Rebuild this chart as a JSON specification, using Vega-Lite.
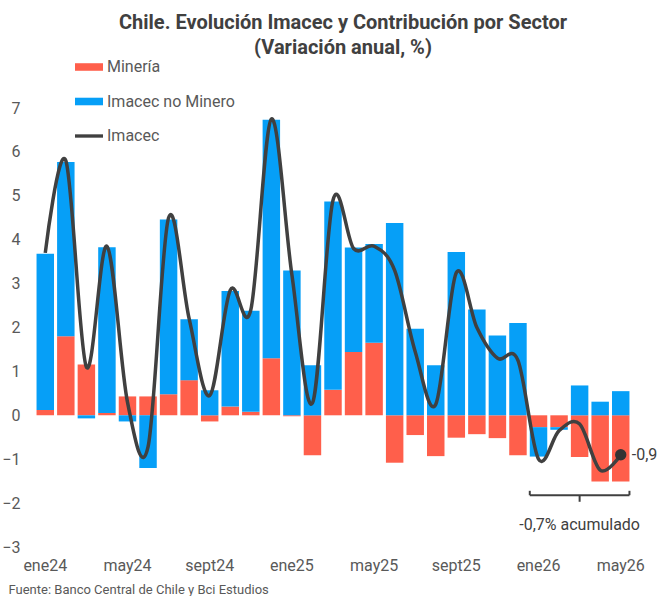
{
  "$schema": "https://vega.github.io/schema/vega-lite/v6.json",
  "width": 596,
  "height": 439,
  "autosize": {"type": "none"},
  "padding": {"left": 35, "top": 108, "right": 32, "bottom": 49},
  "background": "white",
  "config": {"font": "Roboto", "view": {"stroke": null}},
  "title": {
    "text": ["Chile. Evolución Imacec y Contribución por Sector", "(Variación anual, %)"],
    "fontSize": 20,
    "fontWeight": "bold",
    "color": "#404040",
    "anchor": "middle",
    "lineHeight": 25,
    "offset": -5,
    "dx": 10,
    "font": "Roboto"
  },
  "datasets": {
    "barras": [
      {"mes": "ene24", "serie": "Minería", "valor": 0.12}, {"mes": "ene24", "serie": "Imacec no Minero", "valor": 3.56},
      {"mes": "feb24", "serie": "Minería", "valor": 1.8}, {"mes": "feb24", "serie": "Imacec no Minero", "valor": 3.97},
      {"mes": "mar24", "serie": "Minería", "valor": 1.16}, {"mes": "mar24", "serie": "Imacec no Minero", "valor": -0.07},
      {"mes": "abr24", "serie": "Minería", "valor": 0.05}, {"mes": "abr24", "serie": "Imacec no Minero", "valor": 3.78},
      {"mes": "may24", "serie": "Minería", "valor": 0.43}, {"mes": "may24", "serie": "Imacec no Minero", "valor": -0.14},
      {"mes": "jun24", "serie": "Minería", "valor": 0.43}, {"mes": "jun24", "serie": "Imacec no Minero", "valor": -1.2},
      {"mes": "jul24", "serie": "Minería", "valor": 0.48}, {"mes": "jul24", "serie": "Imacec no Minero", "valor": 3.98},
      {"mes": "ago24", "serie": "Minería", "valor": 0.8}, {"mes": "ago24", "serie": "Imacec no Minero", "valor": 1.39},
      {"mes": "sept24", "serie": "Minería", "valor": -0.14}, {"mes": "sept24", "serie": "Imacec no Minero", "valor": 0.57},
      {"mes": "oct24", "serie": "Minería", "valor": 0.2}, {"mes": "oct24", "serie": "Imacec no Minero", "valor": 2.63},
      {"mes": "nov24", "serie": "Minería", "valor": 0.08}, {"mes": "nov24", "serie": "Imacec no Minero", "valor": 2.3},
      {"mes": "dic24", "serie": "Minería", "valor": 1.3}, {"mes": "dic24", "serie": "Imacec no Minero", "valor": 5.43},
      {"mes": "ene25", "serie": "Minería", "valor": -0.02}, {"mes": "ene25", "serie": "Imacec no Minero", "valor": 3.3},
      {"mes": "feb25", "serie": "Minería", "valor": -0.91}, {"mes": "feb25", "serie": "Imacec no Minero", "valor": 1.14},
      {"mes": "mar25", "serie": "Minería", "valor": 0.58}, {"mes": "mar25", "serie": "Imacec no Minero", "valor": 4.29},
      {"mes": "abr25", "serie": "Minería", "valor": 1.44}, {"mes": "abr25", "serie": "Imacec no Minero", "valor": 2.38},
      {"mes": "may25", "serie": "Minería", "valor": 1.65}, {"mes": "may25", "serie": "Imacec no Minero", "valor": 2.25},
      {"mes": "jun25", "serie": "Minería", "valor": -1.08}, {"mes": "jun25", "serie": "Imacec no Minero", "valor": 4.38},
      {"mes": "jul25", "serie": "Minería", "valor": -0.45}, {"mes": "jul25", "serie": "Imacec no Minero", "valor": 1.97},
      {"mes": "ago25", "serie": "Minería", "valor": -0.93}, {"mes": "ago25", "serie": "Imacec no Minero", "valor": 1.14},
      {"mes": "sept25", "serie": "Minería", "valor": -0.51}, {"mes": "sept25", "serie": "Imacec no Minero", "valor": 3.72},
      {"mes": "oct25", "serie": "Minería", "valor": -0.43}, {"mes": "oct25", "serie": "Imacec no Minero", "valor": 2.41},
      {"mes": "nov25", "serie": "Minería", "valor": -0.52}, {"mes": "nov25", "serie": "Imacec no Minero", "valor": 1.82},
      {"mes": "dic25", "serie": "Minería", "valor": -0.91}, {"mes": "dic25", "serie": "Imacec no Minero", "valor": 2.1},
      {"mes": "ene26", "serie": "Minería", "valor": -0.27}, {"mes": "ene26", "serie": "Imacec no Minero", "valor": -0.67},
      {"mes": "feb26", "serie": "Minería", "valor": -0.27}, {"mes": "feb26", "serie": "Imacec no Minero", "valor": -0.06},
      {"mes": "mar26", "serie": "Minería", "valor": -0.95}, {"mes": "mar26", "serie": "Imacec no Minero", "valor": 0.68},
      {"mes": "abr26", "serie": "Minería", "valor": -1.51}, {"mes": "abr26", "serie": "Imacec no Minero", "valor": 0.31},
      {"mes": "may26", "serie": "Minería", "valor": -1.51}, {"mes": "may26", "serie": "Imacec no Minero", "valor": 0.55}
    ],
    "linea": [
      {"mes": "ene24", "imacec": 3.7}, {"mes": "feb24", "imacec": 5.8}, {"mes": "mar24", "imacec": 1.1},
      {"mes": "abr24", "imacec": 3.85}, {"mes": "may24", "imacec": 0.3}, {"mes": "jun24", "imacec": -0.72},
      {"mes": "jul24", "imacec": 4.5}, {"mes": "ago24", "imacec": 2.2}, {"mes": "sept24", "imacec": 0.45},
      {"mes": "oct24", "imacec": 2.85}, {"mes": "nov24", "imacec": 2.4}, {"mes": "dic24", "imacec": 6.75},
      {"mes": "ene25", "imacec": 3.2}, {"mes": "feb25", "imacec": 0.28}, {"mes": "mar25", "imacec": 4.9},
      {"mes": "abr25", "imacec": 3.8}, {"mes": "may25", "imacec": 3.85}, {"mes": "jun25", "imacec": 3.3},
      {"mes": "jul25", "imacec": 1.45}, {"mes": "ago25", "imacec": 0.25}, {"mes": "sept25", "imacec": 3.25},
      {"mes": "oct25", "imacec": 2.0}, {"mes": "nov25", "imacec": 1.3}, {"mes": "dic25", "imacec": 1.25},
      {"mes": "ene26", "imacec": -1.0}, {"mes": "feb26", "imacec": -0.35}, {"mes": "mar26", "imacec": -0.2},
      {"mes": "abr26", "imacec": -1.25}, {"mes": "may26", "imacec": -0.9}
    ],
    "ultimo": [{"mes": "may26", "imacec": -0.9, "etiqueta": "-0,9"}],
    "corchete": [{"desde": "ene26", "hasta": "may26", "y": -1.82}],
    "ganchos": [
      {"mes": "ene26", "pos": 0, "y": -1.82, "y2": -1.72},
      {"mes": "may26", "pos": 1, "y": -1.82, "y2": -1.72}
    ],
    "centro": [{"mes": "mar26", "y": -1.82, "y2": -1.97, "ty": -2.5, "texto": "-0,7% acumulado"}]
  },
  "layer": [
    {
      "data": {"name": "barras"},
      "mark": {"type": "bar"},
      "encoding": {
        "x": {
          "field": "mes",
          "type": "ordinal",
          "scale": {
            "domain": ["ene24","feb24","mar24","abr24","may24","jun24","jul24","ago24","sept24","oct24","nov24","dic24","ene25","feb25","mar25","abr25","may25","jun25","jul25","ago25","sept25","oct25","nov25","dic25","ene26","feb26","mar26","abr26","may26"],
            "paddingInner": 0.15,
            "paddingOuter": 0.075
          },
          "axis": {
            "values": ["ene24","may24","sept24","ene25","may25","sept25","ene26","may26"],
            "labelAngle": 0,
            "labelFontSize": 16,
            "labelColor": "#595959",
            "labelPadding": 10,
            "ticks": false,
            "domain": false,
            "title": "Fuente: Banco Central de Chile y Bci Estudios",
            "titleFontSize": 13,
            "titleFontWeight": "normal",
            "titleColor": "#595959",
            "titleAlign": "left",
            "titleAnchor": "start",
            "titleBaseline": "alphabetic",
            "titleX": -27,
            "titleY": 46
          }
        },
        "y": {
          "field": "valor",
          "type": "quantitative",
          "stack": "zero",
          "scale": {"domain": [-3, 7], "nice": false, "zero": false},
          "axis": {
            "values": [-3, -2, -1, 0, 1, 2, 3, 4, 5, 6, 7],
            "grid": false,
            "ticks": false,
            "domain": false,
            "labelFontSize": 16,
            "labelColor": "#595959",
            "labelPadding": 15,
            "title": null
          }
        },
        "color": {
          "field": "serie",
          "type": "nominal",
          "scale": {"domain": ["Minería", "Imacec no Minero", "Imacec"], "range": ["#FF5F4B", "#069FF7", "#404040"]},
          "legend": {
            "orient": "none",
            "legendX": 40,
            "legendY": -55,
            "title": null,
            "direction": "vertical",
            "symbolSize": 784,
            "labelFontSize": 16,
            "labelColor": "#595959",
            "labelOffset": 4,
            "rowPadding": 12.5,
            "symbolStrokeWidth": 0,
            "encode": {
              "symbols": {
                "update": {
                  "shape": {"signal": "datum.value === 'Imacec' ? 'M-1,-0.12L1,-0.12L1,0.12L-1,0.12Z' : 'M-1,-0.27L1,-0.27L1,0.27L-1,0.27Z'"},
                  "fill": {"scale": "color", "field": "value"},
                  "strokeWidth": {"value": 0},
                  "opacity": {"value": 1}
                }
              }
            }
          }
        },
        "order": {"field": "serie", "sort": "descending"}
      }
    },
    {
      "data": {"name": "linea"},
      "mark": {"type": "line", "interpolate": "cardinal", "strokeWidth": 3.5},
      "encoding": {
        "x": {"field": "mes", "type": "ordinal"},
        "y": {"field": "imacec", "type": "quantitative"},
        "color": {"datum": "Imacec"}
      }
    },
    {
      "data": {"name": "ultimo"},
      "mark": {"type": "circle", "size": 130, "color": "#333333", "opacity": 1},
      "encoding": {
        "x": {"field": "mes", "type": "ordinal"},
        "y": {"field": "imacec", "type": "quantitative"}
      }
    },
    {
      "data": {"name": "ultimo"},
      "mark": {"type": "text", "align": "left", "dx": 11, "fontSize": 16, "color": "#404040"},
      "encoding": {
        "x": {"field": "mes", "type": "ordinal"},
        "y": {"field": "imacec", "type": "quantitative"},
        "text": {"field": "etiqueta"}
      }
    },
    {
      "data": {"name": "corchete"},
      "mark": {"type": "rule", "color": "#404040", "strokeWidth": 2},
      "encoding": {
        "x": {"field": "desde", "type": "ordinal", "bandPosition": 0},
        "x2": {"field": "hasta", "bandPosition": 1},
        "y": {"field": "y", "type": "quantitative"}
      }
    },
    {
      "data": {"name": "ganchos"},
      "transform": [{"filter": "datum.pos === 0"}],
      "mark": {"type": "rule", "color": "#404040", "strokeWidth": 2},
      "encoding": {
        "x": {"field": "mes", "type": "ordinal", "bandPosition": 0},
        "y": {"field": "y", "type": "quantitative"},
        "y2": {"field": "y2"}
      }
    },
    {
      "data": {"name": "ganchos"},
      "transform": [{"filter": "datum.pos === 1"}],
      "mark": {"type": "rule", "color": "#404040", "strokeWidth": 2},
      "encoding": {
        "x": {"field": "mes", "type": "ordinal", "bandPosition": 1},
        "y": {"field": "y", "type": "quantitative"},
        "y2": {"field": "y2"}
      }
    },
    {
      "data": {"name": "centro"},
      "mark": {"type": "rule", "color": "#404040", "strokeWidth": 2},
      "encoding": {
        "x": {"field": "mes", "type": "ordinal"},
        "y": {"field": "y", "type": "quantitative"},
        "y2": {"field": "y2"}
      }
    },
    {
      "data": {"name": "centro"},
      "mark": {"type": "text", "fontSize": 16, "color": "#404040", "baseline": "middle"},
      "encoding": {
        "x": {"field": "mes", "type": "ordinal"},
        "y": {"field": "ty", "type": "quantitative"},
        "text": {"field": "texto"}
      }
    }
  ]
}
